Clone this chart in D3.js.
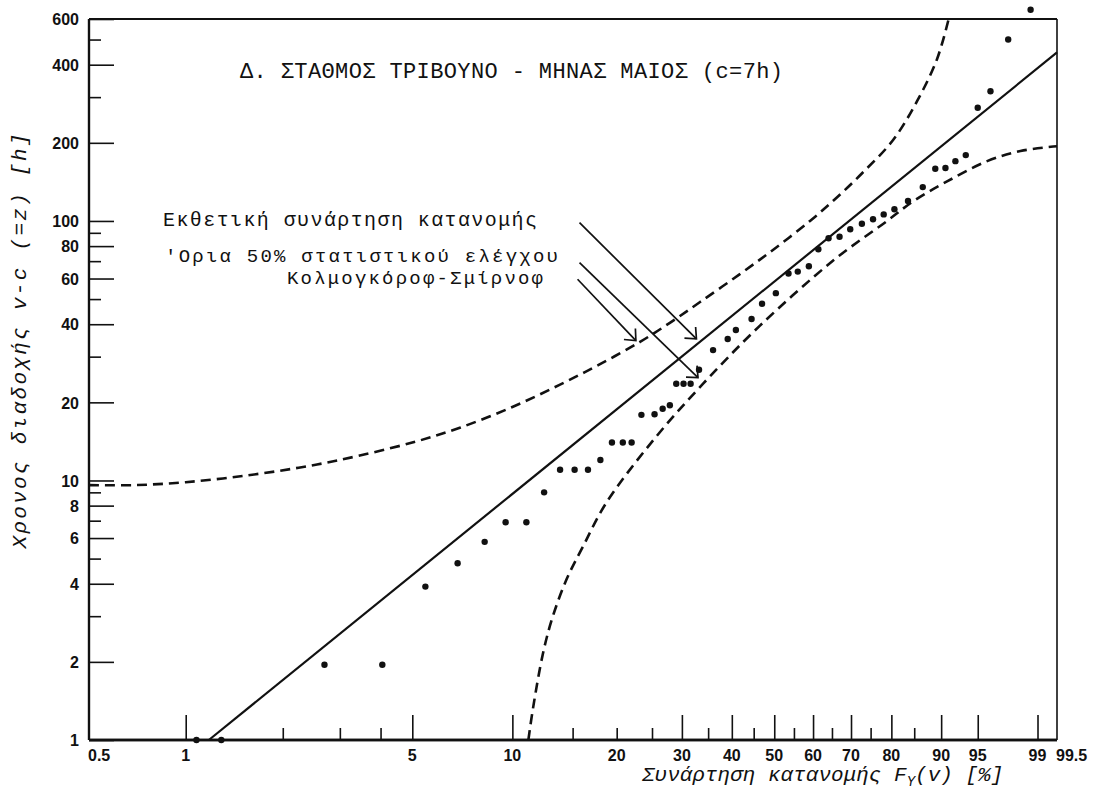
<!DOCTYPE html>
<html>
<head>
<meta charset="utf-8">
<script src="https://cdn.jsdelivr.net/npm/d3@7"></script>
<style>
  html, body { margin: 0; padding: 0; background: #fff; }
  svg { display: block; }
  .plotter { font-family: "Liberation Mono", "DejaVu Sans Mono", monospace; fill: #111; }
  .tick-label { font-family: "Liberation Sans", Arial, sans-serif; font-weight: bold; font-size: 16px; fill: #111; }
</style>
</head>
<body>
<svg id="chart" width="1102" height="796"></svg>
<script>
// Observed successions: plotting position F (%) and duration z = v - c (h)
const obsF = [1.08, 1.29, 2.69, 4.05, 5.48, 6.86, 8.27, 9.55, 11.0,
              12.4, 13.8, 15.2, 16.6, 18.0, 19.4, 20.8, 22.0,
              23.4, 25.4, 26.7, 27.9, 29.0, 30.3, 31.6, 33.2, 36.0, 39.1, 40.9, 44.5, 47.0, 50.4,
              53.6, 56.0, 58.9, 61.4, 64.1, 67.0, 69.8, 72.8, 75.6, 78.2, 80.7, 83.7, 86.7,
              89.0, 90.7, 92.2, 93.6, 95.0, 96.25, 97.6, 98.75];
const obsZ = [1, 1, 1.95, 1.95, 3.9, 4.8, 5.8, 6.9, 6.9,
              9, 11, 11, 11, 12, 14, 14, 14,
              17.9, 18, 18.9, 19.5, 23.6, 23.6, 23.6, 26.7, 31.8, 35.1, 38, 41.9, 48, 52.7,
              62.7, 63.8, 66.9, 77.8, 85.8, 86.9, 92.9, 97.6, 101.5, 106, 110.9, 119.4, 135,
              158.8, 160, 170, 179.4, 273, 316, 500, 651];

// Fitted exponential distribution (straight line on this paper): end points
const fitF = [1.18, 99.5];
const fitZ = [1, 446];

// 50% Kolmogorov-Smirnov limits
const upperF = [0.5, 0.7, 1.0, 1.5, 2.24, 3.0, 5.0, 7.0, 10.0, 13.7, 17.9, 23.2, 27.9, 33.4, 41.8, 50.0, 59.2, 66.0, 73.1, 80.4, 85.6, 89.3, 91.2];
const upperZ = [9.6, 9.6, 9.85, 10.4, 11.2, 12.0, 14.0, 16.0, 19.2, 23.3, 28.0, 34.2, 40.5, 48.7, 62.4, 78, 100, 122, 154, 205, 290, 420, 600];
const lowerF = [11.15, 11.5, 12.3, 13.1, 14.4, 16.1, 18.7, 25.2, 34.0, 46.5, 65.4, 79.0, 84.9, 90.95, 95.95, 98.3, 99.5];
const lowerZ = [1, 1.32, 2.15, 2.95, 4.15, 5.6, 8.2, 14.3, 23.6, 39.5, 70.5, 100, 119.4, 142, 170, 186, 194];

// Axis ticks
const yLabelled = [1, 2, 4, 6, 8, 10, 20, 40, 60, 80, 100, 200, 400, 600];
const yMinor = [3, 5, 7, 9, 30, 50, 70, 90, 300, 500];
const xMajor = [1, 5, 10, 30, 40, 50, 60, 70, 80, 90, 95, 99];
const xMinor = [2, 3, 4, 15, 20, 25, 35, 45, 55, 65, 75, 85];
const xLabels = [0.5, 1, 5, 10, 20, 30, 40, 50, 60, 70, 80, 90, 95, 99, 99.5];

// Annotation arrows (tail -> head), in data units [F %, z h]
const arrowTail = [[15.7, 98.5], [15.7, 69.1], [15.5, 59.6]];
const arrowHead = [[32.7, 35.1], [33.0, 24.9], [22.6, 34.6]];

const titleText = "Δ. ΣΤΑΘΜΟΣ ΤΡΙΒΟΥΝΟ - ΜΗΝΑΣ ΜΑΙΟΣ (c=7h)";
const legendLines = ["Εκθετική συνάρτηση κατανομής", "'Ορια 50% στατιστικού ελέγχου", "Κολμογκόροφ-Σμίρνοφ"];

(function draw() {
  // ---- scales: exponential probability paper ----
  const ink = "#111";
  const pL = 89, pR = 1057, pT = 19, pB = 740;
  const expq = p => Math.log10(-Math.log(1 - p / 100));
  const xs = d3.scaleLinear().domain([expq(0.5), expq(99.5)]).range([pL, pR]);
  const x = p => xs(expq(p));
  const y = d3.scaleLog().domain([1, 600]).range([pB, pT]);

  const svg = d3.select("#chart");

  // frame
  svg.append("line").attr("x1", pL).attr("x2", pR).attr("y1", pT).attr("y2", pT)
    .attr("stroke", ink).attr("stroke-width", 2);
  svg.append("line").attr("x1", pR).attr("x2", pR).attr("y1", pT).attr("y2", pB)
    .attr("stroke", ink).attr("stroke-width", 1.6);

  // y axis (ticks pointing inward)
  const gy = svg.append("g").attr("transform", `translate(${pL},0)`);
  gy.call(d3.axisLeft(y).tickValues(yLabelled).tickSize(-25).tickPadding(10).tickFormat(d3.format("d")));
  gy.append("g").call(d3.axisLeft(y).tickValues(yMinor).tickSize(-12).tickFormat(""));
  gy.selectAll("path.domain").attr("stroke", ink).attr("stroke-width", 2.2).attr("d", `M0,${pT}V${pB}`);
  gy.selectAll(".tick line").attr("stroke", ink).attr("stroke-width", 1.6);
  gy.selectAll(".tick text").attr("class", "tick-label").attr("dy", "0.36em");

  // x axis (ticks pointing inward)
  const gx = svg.append("g").attr("transform", `translate(0,${pB})`);
  gx.call(d3.axisBottom(xs).tickValues(xMajor.map(expq)).tickSize(-25).tickFormat(""));
  gx.append("g").call(d3.axisBottom(xs).tickValues(xMinor.map(expq)).tickSize(-12).tickFormat(""));
  gx.selectAll("path.domain").attr("stroke", ink).attr("stroke-width", 2.6).attr("d", `M${pL},0H${pR}`);
  gx.selectAll(".tick line").attr("stroke", ink).attr("stroke-width", 1.6);
  gx.selectAll("text.xl").data(xLabels).join("text")
    .attr("class", "tick-label xl")
    .attr("x", d => (d === 0.5 || d === 99.5) ? x(d) - 1 : x(d))
    .attr("y", 21)
    .attr("text-anchor", d => (d === 0.5 || d === 99.5) ? "start" : "middle")
    .text(d => d);

  // fitted exponential line
  const line = d3.line().x(d => x(d[0])).y(d => y(d[1]));
  svg.append("path").datum(d3.zip(fitF, fitZ)).attr("d", line)
    .attr("fill", "none").attr("stroke", ink).attr("stroke-width", 2.2);

  // KS limits (dashed)
  const curve = d3.line().x(d => x(d[0])).y(d => y(d[1])).curve(d3.curveCatmullRom.alpha(0.5));
  [[upperF, upperZ], [lowerF, lowerZ]].forEach(([f, z]) => {
    svg.append("path").datum(d3.zip(f, z)).attr("d", curve)
      .attr("fill", "none").attr("stroke", ink).attr("stroke-width", 2.6)
      .attr("stroke-dasharray", "10,6");
  });

  // observed points
  svg.append("g").selectAll("circle").data(d3.zip(obsF, obsZ)).join("circle")
    .attr("cx", d => x(d[0])).attr("cy", d => y(d[1])).attr("r", 3.2).attr("fill", ink);

  // annotation arrows
  const ag = svg.append("g").attr("stroke", ink).attr("stroke-width", 1.7).attr("fill", "none");
  arrowTail.forEach((t, i) => {
    const x0 = x(t[0]), y0 = y(t[1]), x1 = x(arrowHead[i][0]), y1 = y(arrowHead[i][1]);
    ag.append("line").attr("x1", x0).attr("y1", y0).attr("x2", x1).attr("y2", y1);
    const a = Math.atan2(y0 - y1, x0 - x1), len = 12, spread = 0.72;
    ag.append("path").attr("d",
      `M${x1 + len * Math.cos(a - spread)},${y1 + len * Math.sin(a - spread)}L${x1},${y1}` +
      `L${x1 + len * Math.cos(a + spread)},${y1 + len * Math.sin(a + spread)}`);
  });

  // title
  svg.append("text").attr("class", "plotter").attr("x", 240).attr("y", 78)
    .attr("font-size", 22).attr("textLength", 543).attr("lengthAdjust", "spacing").text(titleText);

  // legend text
  const legendPos = [[163, 226, 20, 374], [165, 262, 19, 393], [287, 284, 19, 256]];
  legendLines.forEach((t, i) => {
    svg.append("text").attr("class", "plotter").attr("x", legendPos[i][0]).attr("y", legendPos[i][1])
      .attr("font-size", legendPos[i][2]).attr("textLength", legendPos[i][3])
      .attr("lengthAdjust", "spacing").text(t);
  });

  // axis titles
  svg.append("text").attr("class", "plotter").attr("font-style", "italic").attr("font-size", 21)
    .attr("transform", "translate(26,341) rotate(-90)").attr("text-anchor", "middle")
    .attr("textLength", 415).attr("lengthAdjust", "spacing")
    .text("Χρονος διαδοχής v-c (=z)  [h]");

  const xt = svg.append("text").attr("class", "plotter").attr("font-style", "italic").attr("font-size", 21)
    .attr("x", 642).attr("y", 781);
  xt.append("tspan").text("Συνάρτηση κατανομής F");
  xt.append("tspan").attr("font-size", 14).attr("dy", 5).text("Y");
  xt.append("tspan").attr("dy", -5).text("(v)  [%]");
})();
</script>
</body>
</html>
